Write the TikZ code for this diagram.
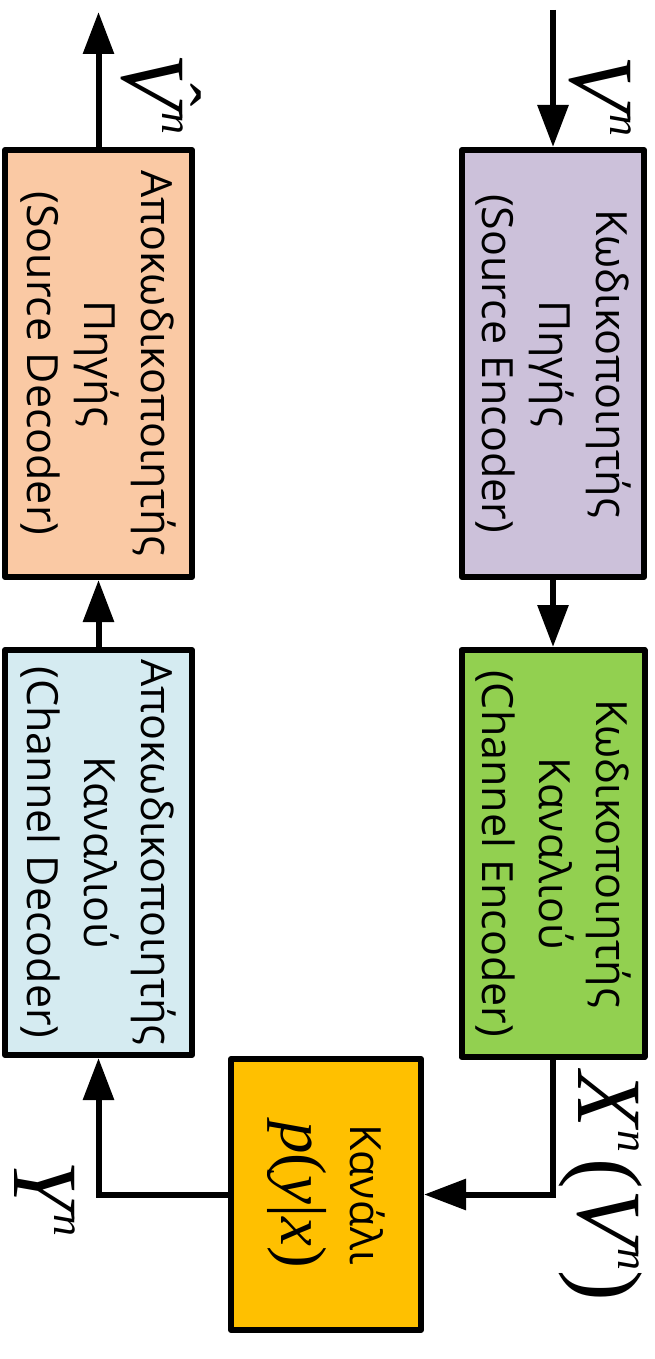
\documentclass[tikz,border=0pt]{standalone}
\usepackage{fontspec}
\setmainfont{Open Sans}
\newfontfamily\lblfont{Liberation Serif}
\usetikzlibrary{arrows.meta}
\definecolor{srcenc}{HTML}{CCC1DA}
\definecolor{chenc}{HTML}{92D050}
\definecolor{chan}{HTML}{FFC000}
\definecolor{chdec}{HTML}{D5EBF1}
\definecolor{srcdec}{HTML}{FAC9A4}
\newcommand{\supn}{\hspace{3pt}\raisebox{40pt}{\fontsize{44}{44}\selectfont\itshape n}}
\newcommand{\hatmark}{\makebox[0pt][l]{\hspace{30pt}\raisebox{30pt}{\fontsize{70}{70}\selectfont\upshape ˆ}}}
\tikzset{
  blk/.style={draw,line width=6pt,line join=round,rotate=-90,align=center,inner sep=0pt,
    font=\fontsize{43}{57}\selectfont},
  arr/.style={line width=6pt,-{Triangle[length=42pt,width=30pt]}},
  lbl/.style={rotate=-90,inner sep=0pt,anchor=base west,font=\fontsize{92}{92}\selectfont\lblfont\itshape},
}
\begin{document}
\begin{tikzpicture}[x=1pt,y=-1pt]
\useasboundingbox (0,0) rectangle (654,1359);
% blocks
\node[blk,fill=srcenc,minimum width=427pt,minimum height=182pt] (senc) at (553,363.5) {Κωδικοποιητής\\Πηγής\\(Source Encoder)};
\node[blk,fill=chenc,minimum width=407pt,minimum height=183pt] (cenc) at (553,853.5) {Κωδικοποιητής\\Καναλιού\\(Channel Encoder)};
\node[blk,fill=chan,minimum width=271pt,minimum height=190pt] (chan) at (326,1194.5)
  {Κανάλι\\[12pt]{\fontsize{65}{65}\selectfont\lblfont\itshape p{\upshape(}y{\upshape|}x{\upshape)}}};
\node[blk,fill=chdec,minimum width=405pt,minimum height=187pt] (cdec) at (98.5,852.5) {Αποκωδικοποιητής\\Καναλιού\\(Channel Decoder)};
\node[blk,fill=srcdec,minimum width=427pt,minimum height=187pt] (sdec) at (98.5,363.5) {Αποκωδικοποιητής\\Πηγής\\(Source Decoder)};
% ends
\coordinate (vin) at (553,10);
\coordinate (vout) at (98.5,12);
% connectors
\draw[arr] (vin) -- (senc.west);
\draw[arr] (senc.east) -- (cenc.west);
\draw[arr] (cenc.east) |- (chan.north);
\draw[arr] (chan.south) -| (cdec.east);
\draw[arr] (cdec.west) -- (sdec.east);
\draw[arr] (sdec.west) -- (vout);
% labels
\node[lbl] (lvin) at (570,55) {V\supn};
\node[lbl] (lvout) at (122,53) {\hatmark V\supn};
\node[lbl] (lx) at (578,1071) {X\supn\hspace{6pt}{\upshape(}V\supn{\upshape)}};
\node[lbl] (ly) at (14,1160) {Y\supn};
\end{tikzpicture}
\end{document}
